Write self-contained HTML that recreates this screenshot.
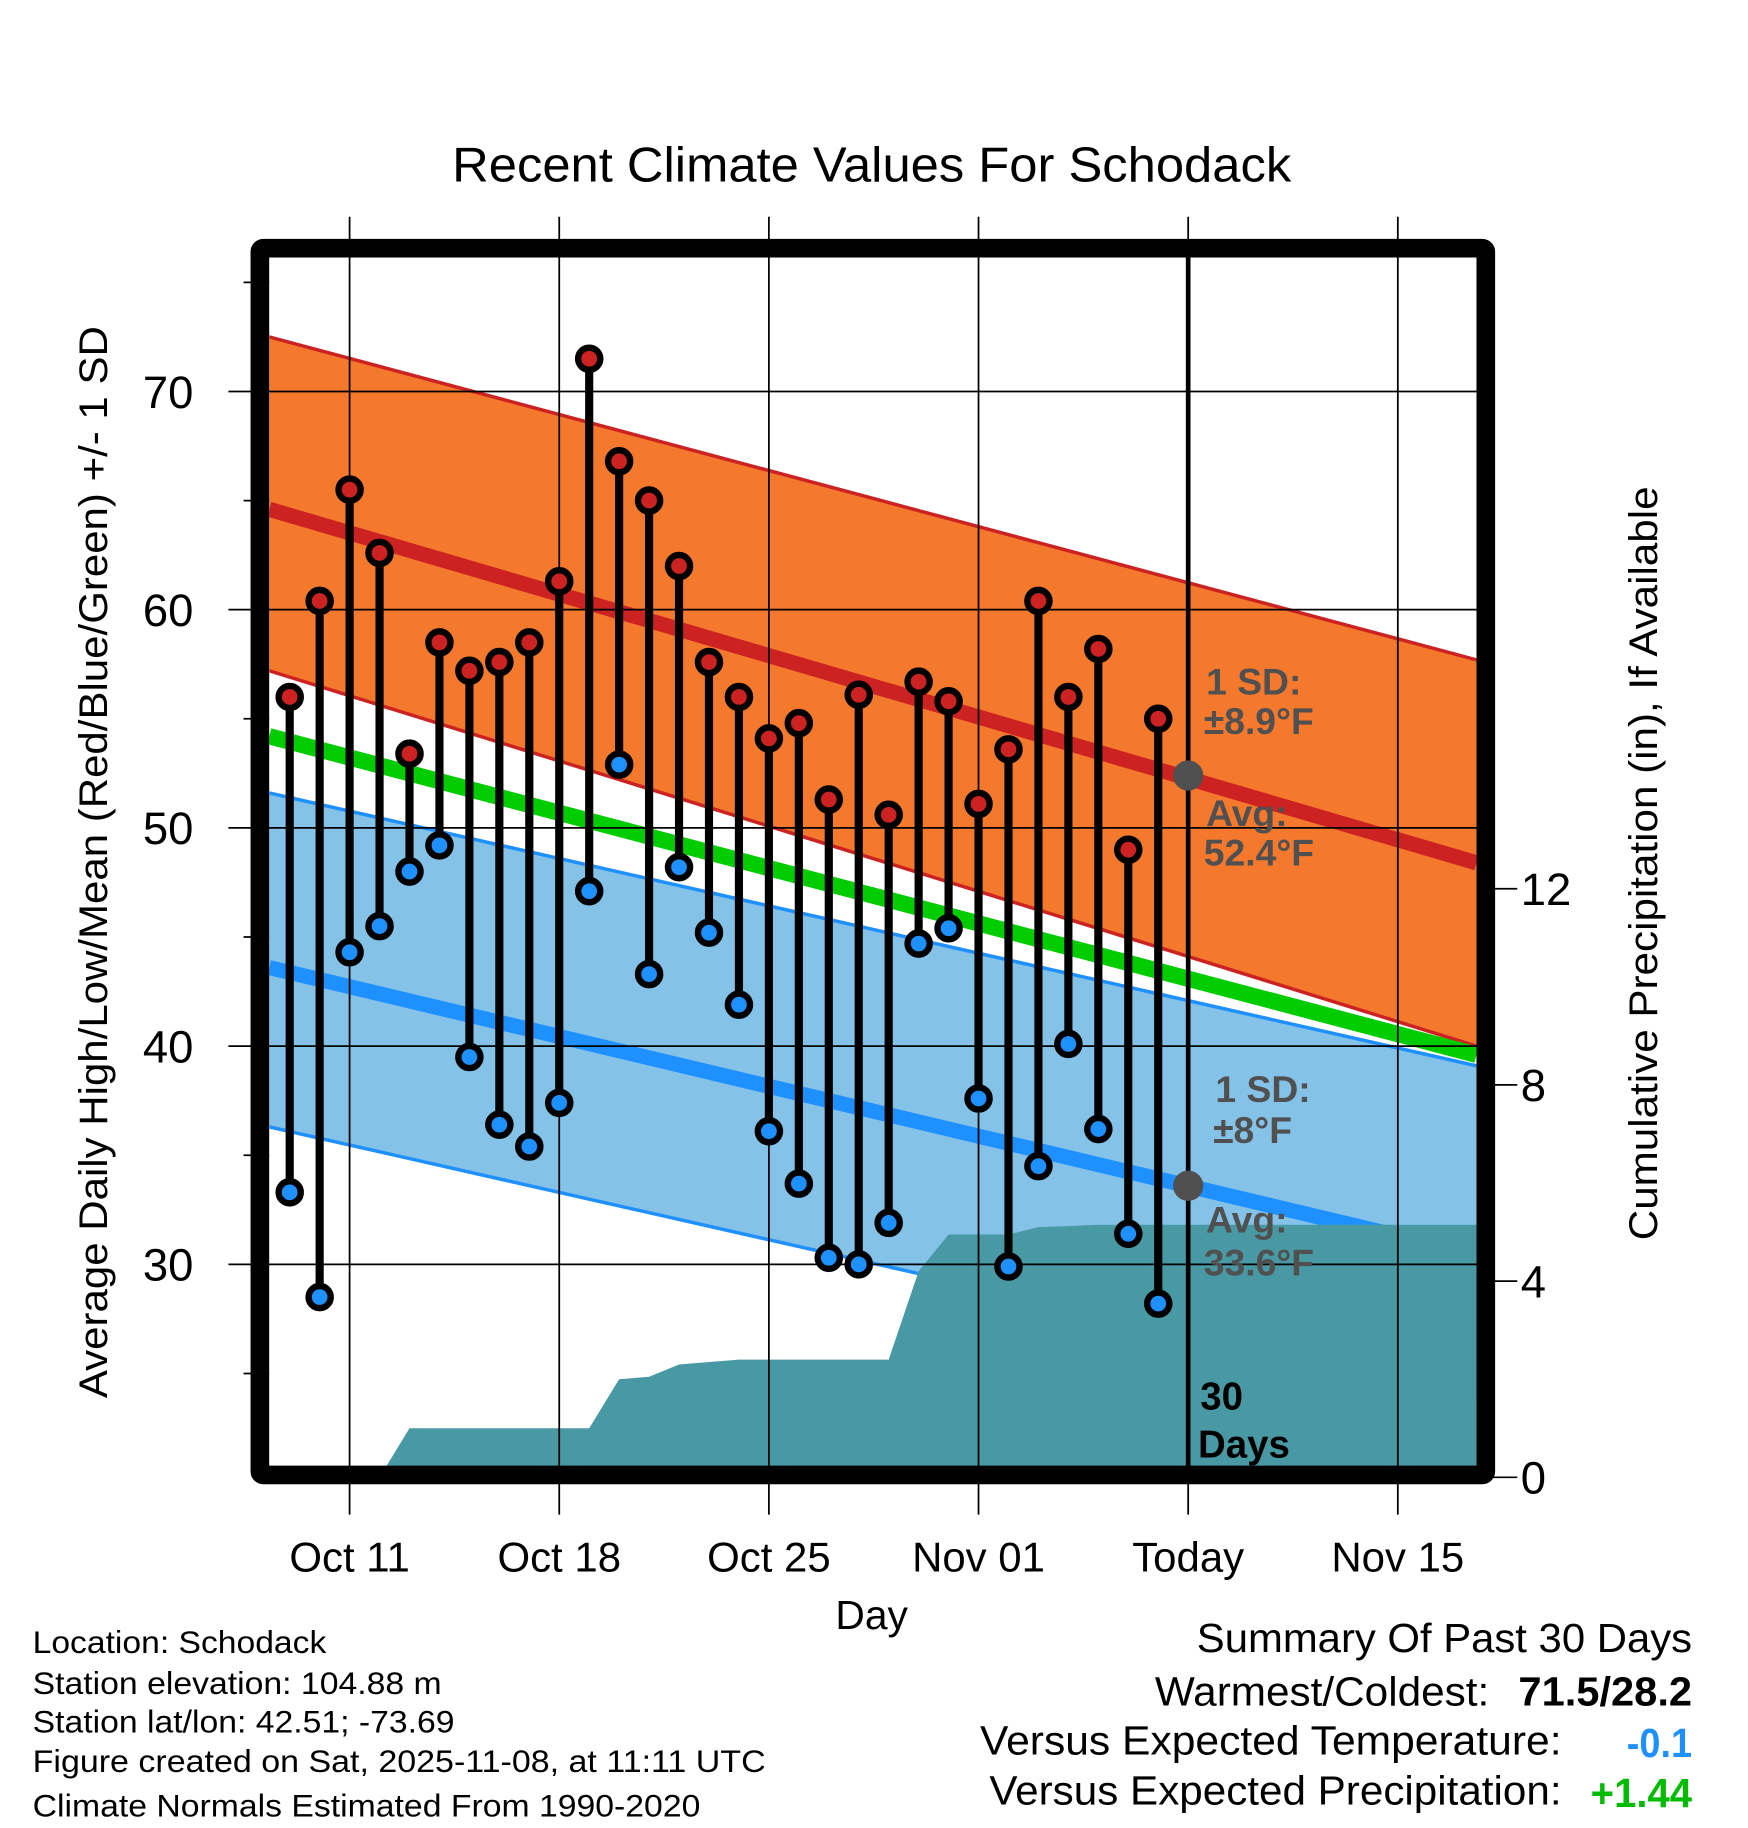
<!DOCTYPE html>
<html><head><meta charset="utf-8"><style>
html,body{margin:0;padding:0;background:#fff;}
svg{display:block;font-family:"Liberation Sans",sans-serif;}
</style></head><body>
<svg id="chart" width="1748" height="1828" viewBox="0 0 1500 1569" preserveAspectRatio="none" xmlns="http://www.w3.org/2000/svg">
<defs><clipPath id="plotclip"><rect x="231" y="221" width="1036" height="1038"/></clipPath></defs>
<g id="fills" clip-path="url(#plotclip)"></g>
<g id="grid"></g>
<g id="marks" clip-path="url(#plotclip)"></g>
<g id="frame"></g>
<g id="labels"></g>
</svg>
<script>
// ---- data ----
const dayLabels = ["Oct 11","Oct 18","Oct 25","Nov 01","Today","Nov 15"];
const dayLabelPos = [0,7,14,21,28,35];
const obsDays = [-2,-1,0,1,2,3,4,5,6,7,8,9,10,11,12,13,14,15,16,17,18,19,20,21,22,23,24,25,26,27];
const highs = [56,60.4,65.5,62.6,53.4,58.5,57.2,57.6,58.5,61.3,71.5,66.8,65,62,57.6,56,54.1,54.8,51.3,56.1,50.6,56.7,55.8,51.1,53.6,60.4,56,58.2,49,55];
const lows = [33.3,28.5,44.3,45.5,48,49.2,39.5,36.4,35.4,37.4,47.1,52.9,43.3,48.2,45.2,41.9,36.1,33.7,30.3,30,31.9,44.7,45.4,37.6,29.9,34.5,40.1,36.2,31.4,28.2];
const precip = [0,0,0,0,1.0,1.0,1.0,1.0,1.0,1.0,1.0,2.0,2.05,2.3,2.35,2.4,2.4,2.4,2.4,2.4,2.4,4.2,4.95,4.95,4.95,5.1,5.12,5.15,5.15,5.15];
const normalEnds = {hiSdTop:[72.5,57.7],hiMean:[64.6,48.4],hiSdBot:[57.2,40.0],mean:[54.2,39.6],loSdTop:[51.6,39.1],loMean:[43.6,30.45],loSdBot:[36.3,23.8]};
const yTicks = [30,40,50,60,70];
const yMinor = [25,35,45,55,65,75];
const pTicks = [0,4,8,12];
// ---- scales ----
const X0=231,X1=1267;
const xs=d=>300+(d)*25.7;
const ys=v=>336+(70-v)*18.73;
const yp=p=>1268-p*42.1;
const NS="http://www.w3.org/2000/svg";
function mk(parent,tag,attrs){const e=document.createElementNS(NS,tag);for(const k in attrs)e.setAttribute(k,attrs[k]);document.getElementById(parent).appendChild(e);return e;}
function band(a,b,fill,name){
  const pts=[[X0,ys(a[0])],[X1,ys(a[1])],[X1,ys(b[1])],[X0,ys(b[0])]].map(p=>p.join(",")).join(" ");
  const e=mk("fills","polygon",{points:pts,fill:fill});
  
  
}
function line(v,color,w,name,g){
  const e=mk(g||"fills","line",{x1:X0,y1:ys(v[0]),x2:X1,y2:ys(v[1]),stroke:color,"stroke-width":w});
  
  
}
band(normalEnds.hiSdTop,normalEnds.hiSdBot,"#f4792d","high-sd-band");
band(normalEnds.loSdTop,normalEnds.loSdBot,"#84c2e8","low-sd-band");
line(normalEnds.hiSdTop,"#cc2222",3,"high-sd-upper");
line(normalEnds.hiSdBot,"#cc2222",3,"high-sd-lower");
line(normalEnds.loSdTop,"#1e90ff",3,"low-sd-upper");
line(normalEnds.loSdBot,"#1e90ff",3,"low-sd-lower");
line(normalEnds.hiMean,"#cc2222",13,"normal-high-line");
line(normalEnds.loMean,"#1e90ff",13,"normal-low-line");
line(normalEnds.mean,"#00cc00",14,"normal-mean-line");
// precip area
let pp=[];
obsDays.forEach((d,i)=>pp.push([xs(d),yp(precip[i])]));
pp.push([X1,yp(precip[precip.length-1])]);pp.push([X1,1262]);pp.push([xs(obsDays[0]),1262]);
const pa=mk("fills","polygon",{points:pp.map(p=>p.join(",")).join(" "),fill:"#4899a3"});


// grid
yTicks.forEach(v=>{const e=mk("grid","line",{x1:196,y1:ys(v),x2:1267,y2:ys(v),stroke:"#000","stroke-width":1.5});

});
yMinor.forEach(v=>{const e=mk("grid","line",{x1:209,y1:ys(v),x2:231,y2:ys(v),stroke:"#000","stroke-width":1.5});

});
dayLabelPos.forEach(d=>{const e=mk("grid","line",{x1:xs(d),y1:186,x2:xs(d),y2:1300,stroke:"#000","stroke-width":1.5});

});
pTicks.forEach(p=>{const e=mk("grid","line",{x1:1275,y1:yp(p),x2:1302,y2:yp(p),stroke:"#000","stroke-width":1.5});

});
// today line
const tl=mk("marks","line",{x1:xs(28),y1:221,x2:xs(28),y2:1262,stroke:"#000","stroke-width":4});


// stems & markers
obsDays.forEach((d,i)=>{
  const s=mk("marks","line",{x1:xs(d),y1:ys(highs[i]),x2:xs(d),y2:ys(lows[i]),stroke:"#000","stroke-width":7});
  
  
});
obsDays.forEach((d,i)=>{
  const h=mk("marks","circle",{cx:xs(d),cy:ys(highs[i]),r:9.5,fill:"#cc2222",stroke:"#000","stroke-width":5.5});
  
  
  const l=mk("marks","circle",{cx:xs(d),cy:ys(lows[i]),r:9.5,fill:"#1e90ff",stroke:"#000","stroke-width":5.5});
  
  
});
[52.4,33.6].forEach(v=>{const c=mk("marks","circle",{cx:xs(28),cy:ys(v),r:13,fill:"#505050"});

});
// frame
const fr=mk("frame","rect",{x:223,y:213,width:1052,height:1053,fill:"none",stroke:"#000","stroke-width":16,rx:3});


// labels
function txt(x,y,s,size,opts){opts=opts||{};const e=mk("labels","text",Object.assign({x:x,y:y,"font-size":size,fill:opts.fill||"#000","text-anchor":opts.anchor||"start","font-weight":opts.weight||"normal"},opts.extra||{}));if(opts.len){e.setAttribute("textLength",opts.len);e.setAttribute("lengthAdjust","spacingAndGlyphs");}e.textContent=s;return e;}
let t;
yTicks.forEach(v=>{t=txt(166,ys(v)+14,String(v),39,{anchor:"end"});

});
pTicks.forEach(p=>{t=txt(1305,yp(p)+14,String(p),39);

});
dayLabels.forEach((s,i)=>{t=txt(xs(dayLabelPos[i]),1349,s,36,{anchor:"middle"});

});
t=txt(748,156,"Recent Climate Values For Schodack",42,{anchor:"middle",len:720});


t=txt(748,1398,"Day",35,{anchor:"middle"});


t=txt(0,0,"Average Daily High/Low/Mean (Red/Blue/Green) +/- 1 SD",34,{anchor:"middle",len:920,extra:{transform:"translate(92,740) rotate(-90)"}});


t=txt(0,0,"Cumulative Precipitation (in), If Available",34,{anchor:"middle",len:647,extra:{transform:"translate(1422,741) rotate(-90)"}});


const ann=[[1035,585,"1 SD:"],[1033,619,"±8.9°F"],[1035,698,"Avg:"],[1033,732,"52.4°F"],[1043,935,"1 SD:"],[1041,970,"±8°F"],[1035,1047,"Avg:"],[1033,1084,"33.6°F"]];
ann.forEach(a=>{t=txt(a[0],a[1]+11,a[2],32,{fill:"#505050",weight:"bold"});

});
t=txt(1030,1210,"30",33,{weight:"bold"});


t=txt(1028,1251,"Days",33,{weight:"bold"});


const info=["Location: Schodack","Station elevation: 104.88 m","Station lat/lon: 42.51; -73.69","Figure created on Sat, 2025-11-08, at 11:11 UTC","Climate Normals Estimated From 1990-2020"];
const infoLen=[252,351,362,629,573];
const infoY=[1419,1454,1487,1521,1559];
info.forEach((s,i)=>{t=txt(28,infoY[i],s,27,{len:infoLen[i]});

});
t=txt(1452,1418,"Summary Of Past 30 Days",35,{anchor:"end",len:425});


t=txt(1278,1464,"Warmest/Coldest:",35,{anchor:"end",len:287});


t=txt(1452,1464,"71.5/28.2",35,{anchor:"end",weight:"bold",len:149});


t=txt(1340,1506,"Versus Expected Temperature:",35,{anchor:"end",len:499});


t=txt(1452,1508,"-0.1",35,{anchor:"end",weight:"bold",fill:"#1e90ff",len:56});


t=txt(1340,1549,"Versus Expected Precipitation:",35,{anchor:"end",len:491});


t=txt(1452,1551,"+1.44",35,{anchor:"end",weight:"bold",fill:"#00bb00",len:87});


</script>
</body></html>
